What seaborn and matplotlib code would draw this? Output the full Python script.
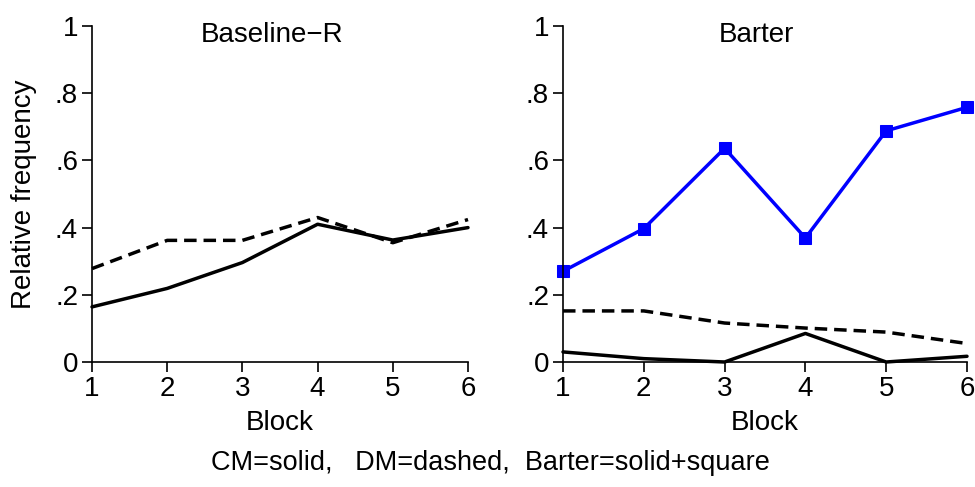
import matplotlib
matplotlib.use("Agg")
import matplotlib.pyplot as plt
import seaborn as sns
import pandas as pd

blocks = [1, 2, 3, 4, 5, 6]

# Baseline-R treatment
base_cm = [0.164, 0.219, 0.296, 0.410, 0.363, 0.400]
base_dm = [0.278, 0.362, 0.362, 0.430, 0.355, 0.424]

# Barter treatment
barter_cm = [0.030, 0.010, 0.000, 0.085, 0.000, 0.017]
barter_dm = [0.152, 0.152, 0.116, 0.101, 0.089, 0.055]
barter_bt = [0.270, 0.397, 0.636, 0.369, 0.688, 0.758]

yticks = [0, 0.2, 0.4, 0.6, 0.8, 1.0]
ytick_labels = ["0", ".2", ".4", ".6", ".8", "1"]

sns.set_style("white")
plt.rcParams["font.family"] = ["Liberation Sans", "DejaVu Sans"]
plt.rcParams["text.color"] = "black"
plt.rcParams["axes.labelcolor"] = "black"
plt.rcParams["xtick.color"] = "black"
plt.rcParams["ytick.color"] = "black"

W, H = 975, 487
fig = plt.figure(figsize=(W / 100, H / 100), dpi=100)


def make_axes(x0, x1, y_top, y_bot):
    return fig.add_axes([x0 / W, (H - y_bot) / H, (x1 - x0) / W, (y_bot - y_top) / H])


ax1 = make_axes(92, 468, 26, 362)
ax2 = make_axes(563, 967, 26, 362)

lw = 2.5
FS = 20


def draw(ax, y, style, color="black", marker=None):
    df = pd.DataFrame({"Block": blocks, "v": y})
    sns.lineplot(data=df, x="Block", y="v", ax=ax, color=color, linewidth=lw,
                 linestyle=style, marker=marker, markersize=9,
                 markeredgecolor=color, markerfacecolor=color)
    if style == "--":
        ax.lines[-1].set_dashes((3.6, 2.0))


draw(ax1, base_cm, "-")
draw(ax1, base_dm, "--")
draw(ax2, barter_cm, "-")
draw(ax2, barter_dm, "--")
draw(ax2, barter_bt, "-", color="#0000ff", marker="s")

for ax, title, tx in [(ax1, "Baseline\u2212R", 0.48), (ax2, "Barter", 0.48)]:
    ax.set_xlim(1, 6)
    ax.set_ylim(0, 1)
    ax.set_xticks(blocks)
    ax.set_xticklabels([str(b) for b in blocks])
    ax.set_yticks(yticks)
    ax.set_yticklabels(ytick_labels)
    for s in ["top", "right"]:
        ax.spines[s].set_visible(False)
    for s in ["left", "bottom"]:
        ax.spines[s].set_linewidth(1.2)
        ax.spines[s].set_color("black")
    ax.tick_params(axis="both", which="major", direction="out", length=7, width=1.2,
                   labelsize=FS, pad=3, color="black", labelcolor="black",
                   left=True, bottom=True)
    ax.set_xlabel("Block", fontsize=FS, labelpad=6, color="black")
    ax.set_ylabel("")
    ax.text(tx, 0.972, title, transform=ax.transAxes, ha="center", va="center",
            fontsize=FS, color="black")
    for line in ax.lines:
        line.set_clip_on(False)

ax1.set_ylabel("Relative frequency", fontsize=FS, labelpad=13, color="black")

fig.text(490 / W, 1 - 463 / H, "CM=solid,   DM=dashed,  Barter=solid+square",
         ha="center", va="center", fontsize=19.5, color="black")

fig.savefig("out.png", dpi=100)
